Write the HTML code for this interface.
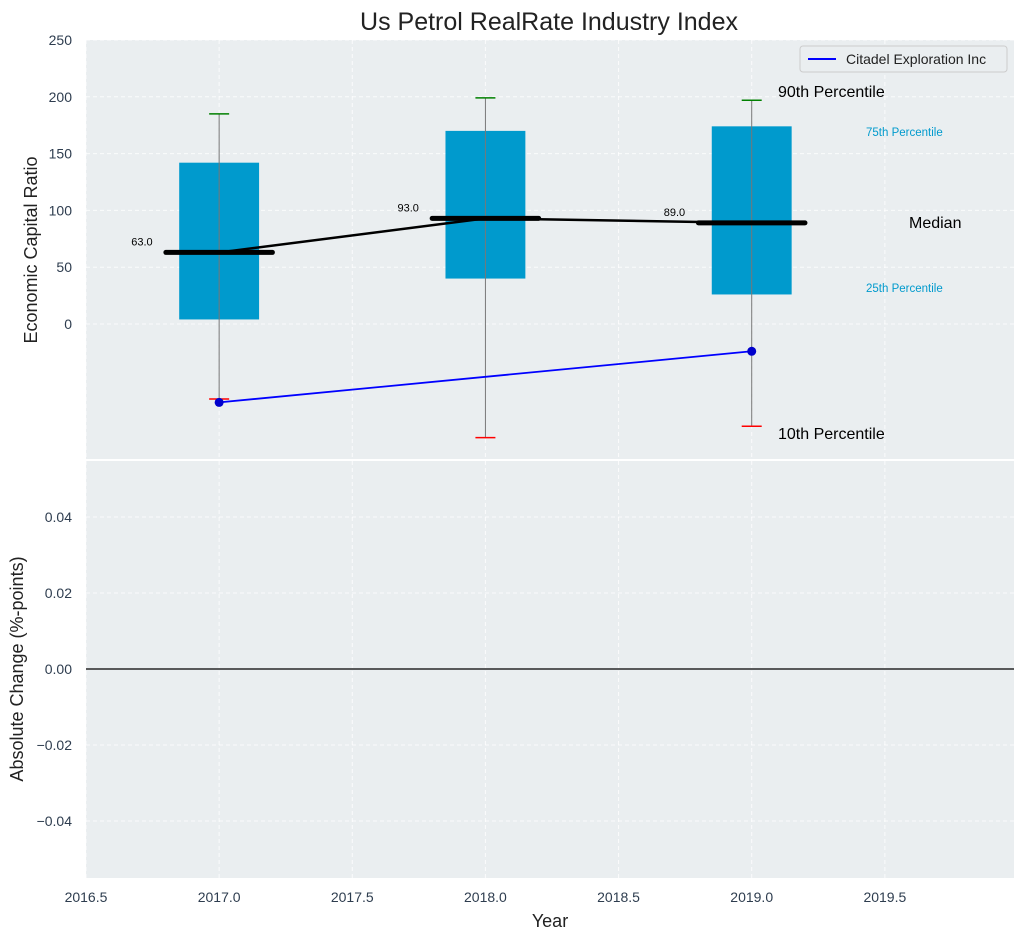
<!DOCTYPE html>
<html><head><meta charset="utf-8"><style>
body{margin:0;background:#fff;font-family:"Liberation Sans","DejaVu Sans",sans-serif}
svg text{font-family:"Liberation Sans","DejaVu Sans",sans-serif}
</style></head><body>
<svg id="chart" width="1025" height="940" xmlns="http://www.w3.org/2000/svg">
<g id="topg"></g>
<g id="botg"></g>
</svg>
<script>
const years=[2017,2018,2019];
const p10=[-66,-100,-90];
const p25=[4,40,26];
const medians=[63,93,89];
const p75=[142,170,174];
const p90=[185,199,197];
const companyYears=[2017,2019];
const companyValues=[-69,-24];
const xTicks=[2016.5,2017.0,2017.5,2018.0,2018.5,2019.0,2019.5];
const yTicksTop=[0,50,100,150,200,250];
const yTicksBot=[-0.04,-0.02,0.00,0.02,0.04];

const NS="http://www.w3.org/2000/svg";
const L=86,R=1014;
const x=v=>L+(v-2016.5)*(R-L)/(2019.985-2016.5);
const yT=v=>324-v*(284/250);
const yB=v=>669-v*3800;
function mk(p,t,a,txt){const e=document.createElementNS(NS,t);for(const k in a)e.setAttribute(k,a[k]);if(txt!==undefined)e.textContent=txt;p.appendChild(e);return e;}
const topG=document.getElementById('topg'),botG=document.getElementById('botg');
let e;
e=mk(topG,'rect',{x:L,y:40,width:R-L,height:419,fill:'#eaeef0'});


e=mk(botG,'rect',{x:L,y:461,width:R-L,height:417,fill:'#eaeef0'});


xTicks.forEach(t=>{
 mk(topG,'line',{x1:x(t),x2:x(t),y1:40,y2:459,stroke:'#fff','stroke-dasharray':'4,3','stroke-width':1,opacity:0.8});
 mk(botG,'line',{x1:x(t),x2:x(t),y1:461,y2:878,stroke:'#fff','stroke-dasharray':'4,3','stroke-width':1,opacity:0.8});
 e=mk(botG,'text',{x:x(t),y:902,'text-anchor':'middle','font-size':14,fill:'#2e3d4f'},t.toFixed(1));
 
 
});
yTicksTop.forEach(t=>{
 mk(topG,'line',{x1:L,x2:R,y1:yT(t),y2:yT(t),stroke:'#fff','stroke-dasharray':'4,3',opacity:0.8});
 e=mk(topG,'text',{x:72,y:yT(t)+5,'text-anchor':'end','font-size':14,fill:'#2e3d4f'},t);
 
 
});
yTicksBot.forEach(t=>{
 mk(botG,'line',{x1:L,x2:R,y1:yB(t),y2:yB(t),stroke:'#fff','stroke-dasharray':'4,3',opacity:0.8});
 e=mk(botG,'text',{x:72,y:yB(t)+5,'text-anchor':'end','font-size':14,fill:'#2e3d4f'},(t<0?'\u2212':'')+Math.abs(t).toFixed(2));
 
 
});
mk(botG,'line',{x1:L,x2:R,y1:yB(0),y2:yB(0),stroke:'#000','stroke-width':1.2});
years.forEach((yr,i)=>{
 const cx=x(yr),hw=(x(yr+0.15)-x(yr));
 e=mk(topG,'rect',{x:cx-hw,y:yT(p75[i]),width:2*hw,height:yT(p25[i])-yT(p75[i]),fill:'#009acd'});
 
 
 mk(topG,'line',{x1:cx,x2:cx,y1:yT(p90[i]),y2:yT(p10[i]),stroke:'#777','stroke-width':1});
 mk(topG,'line',{x1:cx-10,x2:cx+10,y1:yT(p90[i]),y2:yT(p90[i]),stroke:'green','stroke-width':1.5});
 mk(topG,'line',{x1:cx-10,x2:cx+10,y1:yT(p10[i]),y2:yT(p10[i]),stroke:'red','stroke-width':1.5});
 const mw=x(yr+0.2)-x(yr);
 e=mk(topG,'line',{x1:cx-mw,x2:cx+mw,y1:yT(medians[i]),y2:yT(medians[i]),stroke:'#000','stroke-width':5,'stroke-linecap':'round'});
 
 
 mk(topG,'text',{x:2*cx-x(yr+0.29),y:yT(medians[i])-7,'text-anchor':'middle','font-size':11,fill:'#000'},medians[i].toFixed(1));
});
mk(topG,'polyline',{points:years.map((yr,i)=>x(yr)+','+yT(medians[i])).join(' '),fill:'none',stroke:'#000','stroke-width':2.5});
e=mk(topG,'polyline',{points:companyYears.map((yr,i)=>x(yr)+','+yT(companyValues[i])).join(' '),fill:'none',stroke:'blue','stroke-width':1.8});


companyYears.forEach((yr,i)=>mk(topG,'circle',{cx:x(yr),cy:yT(companyValues[i]),r:4.5,fill:'#0000cc'}));
mk(topG,'text',{x:778,y:97,'font-size':16},'90th Percentile');
mk(topG,'text',{x:866,y:136,'font-size':11.5,fill:'#009acd'},'75th Percentile');
mk(topG,'text',{x:909,y:228,'font-size':16},'Median');
mk(topG,'text',{x:866,y:292,'font-size':11.5,fill:'#009acd'},'25th Percentile');
mk(topG,'text',{x:778,y:439,'font-size':16},'10th Percentile');
e=mk(topG,'g',{});


mk(e,'rect',{x:800,y:46,width:207,height:26,rx:3,fill:'#eaeef0',stroke:'#ccc'});
mk(e,'line',{x1:808,x2:836,y1:59,y2:59,stroke:'blue','stroke-width':2});
mk(e,'text',{x:846,y:64,'font-size':14,fill:'#222'},'Citadel Exploration Inc');
mk(topG,'text',{x:549,y:30,'text-anchor':'middle','font-size':25,fill:'#222'},'Us Petrol RealRate Industry Index');
mk(topG,'text',{x:37,y:250,'text-anchor':'middle','font-size':18,fill:'#222',transform:'rotate(-90 37 250)'},'Economic Capital Ratio');
mk(botG,'text',{x:23,y:669,'text-anchor':'middle','font-size':18,fill:'#222',transform:'rotate(-90 23 669)'},'Absolute Change (%-points)');
mk(botG,'text',{x:550,y:927,'text-anchor':'middle','font-size':18,fill:'#222'},'Year');
</script>
</body></html>
